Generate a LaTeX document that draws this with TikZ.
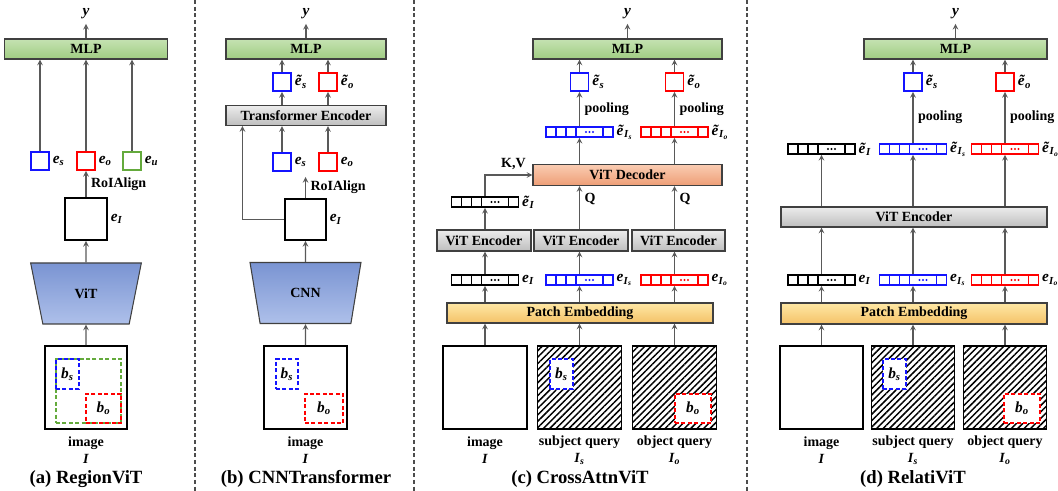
\documentclass[tikz,border=0pt]{standalone}
\usepackage{fontspec}
\setmainfont{Liberation Serif}
\usepackage{tikz}
\usetikzlibrary{arrows,shapes.geometric,patterns.meta}
\usepackage{xcolor}
\definecolor{dfgray}{RGB}{89,89,89}
\definecolor{dfborder}{RGB}{64,64,64}
\definecolor{dfblue}{RGB}{20,20,255}
\definecolor{dfred}{RGB}{255,0,0}
\definecolor{dfgreen}{RGB}{100,170,60}
\definecolor{dfgreenT}{RGB}{197,226,178}
\definecolor{dfgreenB}{RGB}{160,205,130}
\definecolor{dfgrayT}{RGB}{236,236,236}
\definecolor{dfgrayB}{RGB}{190,190,190}
\definecolor{dfsalmonT}{RGB}{250,204,178}
\definecolor{dfsalmonB}{RGB}{238,158,118}
\definecolor{dfyellowT}{RGB}{255,232,165}
\definecolor{dfyellowB}{RGB}{244,194,104}
\definecolor{dfvitT}{RGB}{122,148,210}
\definecolor{dfvitB}{RGB}{174,192,234}
\newcommand{\px}{0.75pt}
\newcommand{\lbl}{\fontsize{11.5}{13}\selectfont}
\newcommand{\bi}[1]{\textbf{\textit{#1}}}
\newcommand{\emb}[1]{{\lbl\bi{e}\textsubscript{\bi{#1}}}}
\newcommand{\embt}[1]{{\lbl\bi{\~{e}}\textsubscript{\bi{#1}}}}
\newcommand{\embI}[1]{{\lbl\bi{e}\textsubscript{\bi{I}\textsubscript{\bi{#1}}}}}
\newcommand{\embIt}[1]{{\lbl\bi{\~{e}}\textsubscript{\bi{I}\textsubscript{\bi{#1}}}}}
\newcommand{\bb}[1]{{\lbl\bi{b}\textsubscript{\bi{#1}}}}
\tikzstyle{arrow} = [->,>=stealth,line width=0.9pt,draw=dfgray]
\tikzstyle{bar} = [rectangle, draw=dfborder, line width=0.8pt, minimum height=20*\px, inner sep=0pt]
\tikzstyle{mlp} = [bar, top color=dfgreenT, bottom color=dfgreenB]
\tikzstyle{encoder} = [bar, top color=dfgrayT, bottom color=dfgrayB]
\tikzstyle{decoder} = [bar, top color=dfsalmonT, bottom color=dfsalmonB]
\tikzstyle{embed} = [bar, top color=dfyellowT, bottom color=dfyellowB]
\tikzstyle{backbone} = [trapezium, shape border rotate=180, trapezium angle=76.6, trapezium stretches=true, minimum width=111*\px, minimum height=61*\px, draw=dfborder, line width=0.8pt, top color=dfvitT, bottom color=dfvitB]
\tikzstyle{feat} = [rectangle, line width=1.4pt, minimum size=18*\px, inner sep=0pt]
\tikzstyle{fmap} = [rectangle, draw=black, line width=1.4pt, minimum size=41*\px]
\tikzstyle{picbox} = [rectangle, draw=black, line width=1.4pt, minimum width=83*\px, minimum height=83*\px]
\tikzstyle{query} = [picbox, pattern={Lines[angle=45,distance=3.4pt,line width=1.1pt]}]
\tikzstyle{region} = [rectangle, dash pattern=on 3pt off 1.8pt, line width=1pt, inner sep=0pt]
\tikzstyle{tokens} = [rectangle, line width=1.2pt, minimum width=67*\px, minimum height=10*\px, inner sep=0pt]
\tikzstyle{lab} = [right, inner sep=2pt]
\tikzstyle{divider} = [dash pattern=on 3pt off 2pt, line width=0.8pt, color=black!70]
\tikzstyle{subcap} = [font=\bfseries\fontsize{14}{16}\selectfont]
% token row: name, x, y, colour
\newcommand{\tokenrow}[4]{%
  \node[tokens, draw=#4] (#1) at (#2,#3) {};
  \foreach \d in {-23.5,-13.5,-3.5,23.5}
    \draw[#4, line width=1.1pt] ([xshift=\d*\px]#1.north) -- ([xshift=\d*\px]#1.south);
  \foreach \d in {6.5,10,13.5}
    \fill[#4] ([xshift=\d*\px]#1.center) circle (0.8pt);
}

\begin{document}
\begin{tikzpicture}[x=0.75pt, y=-0.75pt, font=\bfseries\fontsize{10.5}{12.75}\selectfont]
\useasboundingbox (0,0) rectangle (1058,491);

% Separators
\draw[divider] (195,0) -- (195,491);
\draw[divider] (414,0) -- (414,491);
\draw[divider] (747,0) -- (747,491);

% (a) RegionViT
\node[mlp, minimum width=163*\px] (mlpa) at (86,49) {MLP};
\node (ya) at (86,14) {\lbl\bi{y}};
\draw[arrow] (mlpa.north) -- (ya.south);
\node[feat, draw=dfblue] (esa) at (40,161) {};
\node[feat, draw=dfred] (eoa) at (86,161) {};
\node[feat, draw=dfgreen] (eua) at (132,161) {};
\node[lab] (lesa) at (esa.east) {\emb{s}};
\node[lab] (leoa) at (eoa.east) {\emb{o}};
\node[lab] (leua) at (eua.east) {\emb{u}};
\draw[arrow] (esa.north) -- (esa |- mlpa.south);
\draw[arrow] (eoa.north) -- (eoa |- mlpa.south);
\draw[arrow] (eua.north) -- (eua |- mlpa.south);
\node[fmap, minimum size=42*\px] (eIa) at (86,219) {};
\node[lab] (leIa) at (eIa.east) {\emb{I}};
\draw[arrow] (eIa.north) -- (eoa.south) node[midway, right, text=black] (roia) {RoIAlign};
\node[backbone] (vit) at (86,293.5) {ViT};
\draw[arrow] (vit.north) -- (eIa.south);
\node[picbox, minimum width=82*\px] (imga) at (86,387.5) {};
\draw[arrow] (imga.north) -- (vit.south);
\node[region, draw=dfgreen, minimum width=65*\px, minimum height=64*\px] (bua) at (88.5,391) {};
\node[region, draw=dfblue, minimum width=23*\px, minimum height=30*\px] (bsa) at (67.5,374) {\bb{s}};
\node[region, draw=dfred, minimum width=35*\px, minimum height=29*\px] (boa) at (103.5,408.5) {\bb{o}};
\node[align=center] (txa) at (86,450) {image\\\bi{I}};
\node[subcap] (capa) at (86,479) {(a) RegionViT};

% (b) CNNTransformer
\node[mlp, minimum width=160*\px] (mlpb) at (306,49) {MLP};
\node (yb) at (306,14) {\lbl\bi{y}};
\draw[arrow] (mlpb.north) -- (yb.south);
\node[feat, draw=dfblue] (tesb) at (282,82) {};
\node[feat, draw=dfred] (teob) at (328,82) {};
\node[lab] (ltesb) at (tesb.east) {\embt{s}};
\node[lab] (lteob) at (teob.east) {\embt{o}};
\draw[arrow] (tesb.north) -- (tesb |- mlpb.south);
\draw[arrow] (teob.north) -- (teob |- mlpb.south);
\node[encoder, minimum width=160*\px] (teb) at (306,115.5) {Transformer Encoder};
\draw[arrow] (tesb |- teb.north) -- (tesb.south);
\draw[arrow] (teob |- teb.north) -- (teob.south);
\node[feat, draw=dfblue] (esb) at (282,162) {};
\node[feat, draw=dfred] (eob) at (328,162) {};
\node[lab] (lesb) at (esb.east) {\emb{s}};
\node[lab] (leob) at (eob.east) {\emb{o}};
\draw[arrow] (esb.north) -- (esb |- teb.south);
\draw[arrow] (eob.north) -- (eob |- teb.south);
\node[fmap] (eIb) at (305.5,219.5) {};
\node[lab] (leIb) at (eIb.east) {\emb{I}};
\coordinate (rb) at (305.5,177);
\draw[arrow] (eIb.north) -- (rb) node[midway, right, text=black] (roib) {RoIAlign};
\draw[arrow] (eIb.west) -| ([xshift=17*\px]teb.south west);
\node[backbone] (cnn) at (305.5,293) {CNN};
\draw[arrow] (cnn.north) -- (eIb.south);
\node[picbox] (imgb) at (305.5,387.5) {};
\draw[arrow] (imgb.north) -- (cnn.south);
\node[region, draw=dfblue, minimum width=22*\px, minimum height=30*\px] (bsb) at (287,374) {\bb{s}};
\node[region, draw=dfred, minimum width=38*\px, minimum height=29*\px] (bob) at (324,408.5) {\bb{o}};
\node[align=center] (txb) at (305.5,450) {image\\\bi{I}};
\node[subcap] (capb) at (306,479) {(b) CNNTransformer};

% (c) CrossAttnViT
\node[mlp, minimum width=189*\px] (mlpc) at (627.5,49) {MLP};
\node (yc) at (627.5,14) {\lbl\bi{y}};
\draw[arrow] (mlpc.north) -- (yc.south);
\node[feat, draw=dfblue] (tesc) at (579.5,82) {};
\node[feat, draw=dfred] (teoc) at (674.5,82) {};
\node[lab] (ltesc) at (tesc.east) {\embt{s}};
\node[lab] (lteoc) at (teoc.east) {\embt{o}};
\draw[arrow] (tesc.north) -- (tesc |- mlpc.south);
\draw[arrow] (teoc.north) -- (teoc |- mlpc.south);
\tokenrow{tIsc}{579.5}{132}{dfblue}
\tokenrow{tIoc}{674.5}{132}{dfred}
\node[lab] (ltIsc) at (tIsc.east) {\embIt{s}};
\node[lab] (ltIoc) at (tIoc.east) {\embIt{o}};
\draw[arrow] (tIsc.north) -- (tesc.south) node[midway, right, text=black] (plsc) {pooling};
\draw[arrow] (tIoc.north) -- (teoc.south) node[midway, right, text=black] (ploc) {pooling};
\node[decoder, minimum width=189*\px, minimum height=21*\px] (dec) at (627.5,175) {ViT Decoder};
\draw[arrow] (tIsc |- dec.north) -- (tIsc.south);
\draw[arrow] (tIoc |- dec.north) -- (tIoc.south);
\tokenrow{tIc}{485}{202}{black}
\node[lab] (ltIc) at (tIc.east) {\embt{I}};
\draw[arrow] (tIc.north) |- (dec.west) node[pos=0.8, above, text=black] (kv) {K,V};
\node[encoder, minimum width=94*\px, minimum height=21*\px] (enc1c) at (484,240.5) {ViT Encoder};
\node[encoder, minimum width=94*\px, minimum height=21*\px] (enc2c) at (581,240.5) {ViT Encoder};
\node[encoder, minimum width=93*\px, minimum height=21*\px] (enc3c) at (678.5,240.5) {ViT Encoder};
\draw[arrow] (tIc |- enc1c.north) -- (tIc.south);
\draw[arrow] (tIsc |- enc2c.north) -- (tIsc |- dec.south) node[pos=0.7, right, text=black] (qs) {Q};
\draw[arrow] (tIoc |- enc3c.north) -- (tIoc |- dec.south) node[pos=0.7, right, text=black] (qo) {Q};
\tokenrow{eIc}{485}{280}{black}
\tokenrow{eIsc}{579.5}{280}{dfblue}
\tokenrow{eIoc}{674.5}{280}{dfred}
\node[lab] (leIc) at (eIc.east) {\emb{I}};
\node[lab] (leIsc) at (eIsc.east) {\embI{s}};
\node[lab] (leIoc) at (eIoc.east) {\embI{o}};
\draw[arrow] (eIc.north) -- (eIc |- enc1c.south);
\draw[arrow] (eIsc.north) -- (eIsc |- enc2c.south);
\draw[arrow] (eIoc.north) -- (eIoc |- enc3c.south);
\node[embed, minimum width=266*\px] (pec) at (580,313) {Patch Embedding};
\draw[arrow] (eIc |- pec.north) -- (eIc.south);
\draw[arrow] (eIsc |- pec.north) -- (eIsc.south);
\draw[arrow] (eIoc |- pec.north) -- (eIoc.south);
\node[picbox, minimum width=84*\px] (img1c) at (485,387.5) {};
\node[query, minimum width=84*\px] (img2c) at (579.5,387.5) {};
\node[query, minimum width=84*\px] (img3c) at (674.5,387.5) {};
\node[region, draw=dfblue, fill=white, minimum width=23*\px, minimum height=30*\px] (bsc) at (561.5,374) {\bb{s}};
\node[region, draw=dfred, fill=white, minimum width=36*\px, minimum height=29*\px] (boc) at (693,408.5) {\bb{o}};
\draw[arrow] (img1c.north) -- (img1c |- pec.south);
\draw[arrow] (img2c.north) -- (img2c |- pec.south);
\draw[arrow] (img3c.north) -- (img3c |- pec.south);
\node[align=center] (txc1) at (485,450) {image\\\bi{I}};
\node[align=center] (txc2) at (579.5,450) {subject query\\\bi{I}\textsubscript{\bi{s}}};
\node[align=center] (txc3) at (674.5,450) {object query\\\bi{I}\textsubscript{\bi{o}}};
\node[subcap] (capc) at (580,479) {(c) CrossAttnViT};

% (d) RelatiViT
\node[mlp, minimum width=183*\px] (mlpd) at (955.5,49) {MLP};
\node (yd) at (955.5,14) {\lbl\bi{y}};
\draw[arrow] (mlpd.north) -- (yd.south);
\node[feat, draw=dfblue] (tesd) at (913,82) {};
\node[feat, draw=dfred] (teod) at (1005,82) {};
\node[lab] (ltesd) at (tesd.east) {\embt{s}};
\node[lab] (lteod) at (teod.east) {\embt{o}};
\draw[arrow] (tesd.north) -- (tesd |- mlpd.south);
\draw[arrow] (teod.north) -- (teod |- mlpd.south);
\tokenrow{tId}{821.5}{149}{black}
\tokenrow{tIsd}{913}{149}{dfblue}
\tokenrow{tIod}{1005}{149}{dfred}
\node[lab] (ltId) at (tId.east) {\embt{I}};
\node[lab] (ltIsd) at (tIsd.east) {\embIt{s}};
\node[lab] (ltIod) at (tIod.east) {\embIt{o}};
\draw[arrow] (tIsd.north) -- (tesd.south) node[midway, right, text=black] (plsd) {pooling};
\draw[arrow] (tIod.north) -- (teod.south) node[midway, right, text=black] (plod) {pooling};
\node[encoder, minimum width=266*\px] (encd) at (914,217) {ViT Encoder};
\draw[arrow] (tId |- encd.north) -- (tId.south);
\draw[arrow] (tIsd |- encd.north) -- (tIsd.south);
\draw[arrow] (tIod |- encd.north) -- (tIod.south);
\tokenrow{eId}{821.5}{280}{black}
\tokenrow{eIsd}{913}{280}{dfblue}
\tokenrow{eIod}{1005}{280}{dfred}
\node[lab] (leId) at (eId.east) {\emb{I}};
\node[lab] (leIsd) at (eIsd.east) {\embI{s}};
\node[lab] (leIod) at (eIod.east) {\embI{o}};
\draw[arrow] (eId.north) -- (eId |- encd.south);
\draw[arrow] (eIsd.north) -- (eIsd |- encd.south);
\draw[arrow] (eIod.north) -- (eIod |- encd.south);
\node[embed, minimum width=266*\px, minimum height=21*\px] (ped) at (914,313.5) {Patch Embedding};
\draw[arrow] (eId |- ped.north) -- (eId.south);
\draw[arrow] (eIsd |- ped.north) -- (eIsd.south);
\draw[arrow] (eIod |- ped.north) -- (eIod.south);
\node[picbox] (img1d) at (821.5,387.5) {};
\node[query] (img2d) at (913,387.5) {};
\node[query] (img3d) at (1005,387.5) {};
\node[region, draw=dfblue, fill=white, minimum width=23*\px, minimum height=30*\px] (bsd) at (894.5,374) {\bb{s}};
\node[region, draw=dfred, fill=white, minimum width=36*\px, minimum height=29*\px] (bod) at (1022,408.5) {\bb{o}};
\draw[arrow] (img1d.north) -- (img1d |- ped.south);
\draw[arrow] (img2d.north) -- (img2d |- ped.south);
\draw[arrow] (img3d.north) -- (img3d |- ped.south);
\node[align=center] (txd1) at (821.5,450) {image\\\bi{I}};
\node[align=center] (txd2) at (913,450) {subject query\\\bi{I}\textsubscript{\bi{s}}};
\node[align=center] (txd3) at (1005,450) {object query\\\bi{I}\textsubscript{\bi{o}}};
\node[subcap] (capd) at (913,479) {(d) RelatiViT};
\end{tikzpicture}
\end{document}
